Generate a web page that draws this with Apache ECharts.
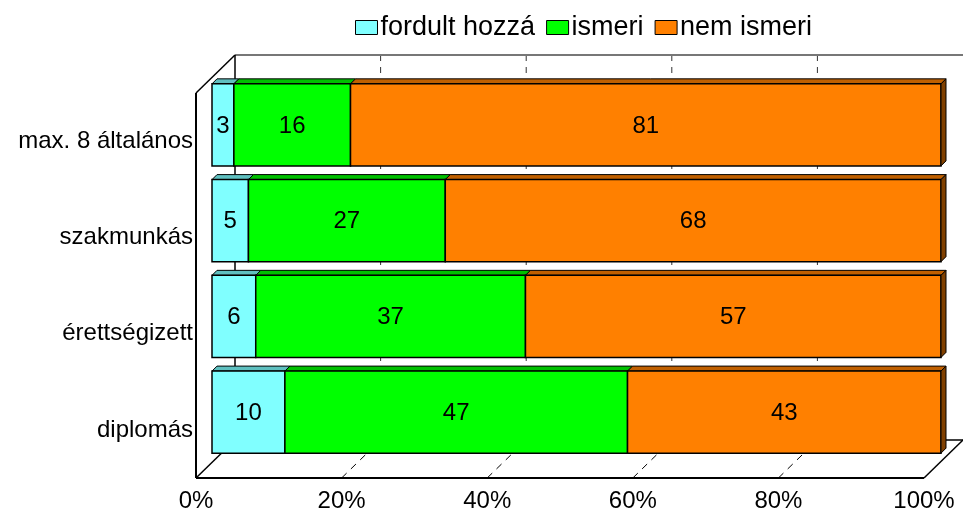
<!DOCTYPE html>
<html>
<head>
<meta charset="utf-8">
<script src="https://cdn.jsdelivr.net/npm/echarts@6/dist/echarts.min.js"></script>
<style>
html,body{margin:0;padding:0;background:#fff;}
#chart{width:963px;height:514px;}
</style>
</head>
<body>
<div id="chart"></div>
<script>
var categories = ['max. 8 általános', 'szakmunkás', 'érettségizett', 'diplomás'];
var fordult = [3, 5, 6, 10];
var ismeri = [16, 27, 37, 47];
var nemIsmeri = [81, 68, 57, 43];
var xTicks = [0, 20, 40, 60, 80, 100];

var names = ['fordult hozzá', 'ismeri', 'nem ismeri'];
var colors = ['#80FFFF', '#00FF00', '#FF8000'];
var topColors = ['#5FC0C0', '#00C000', '#C06000'];
var sideColor = '#804000';
var DEPTH = 5;        // bar top/side depth
var WALL = [39, -38]; // wall depth offset
var FONT = '"Liberation Sans", Arial, sans-serif';

var values = [fordult, ismeri, nemIsmeri];

// segments: [start, end, catIndex, value]
function segments(si) {
    var out = [];
    for (var c = 0; c < categories.length; c++) {
        var start = 0;
        for (var k = 0; k < si; k++) start += values[k][c];
        out.push([start, start + values[si][c], c, values[si][c]]);
    }
    return out;
}

function barItem(si) {
    return function (params, api) {
        var s = api.value(0), e = api.value(1), c = api.value(2);
        var p0 = api.coord([s, c]);
        var p1 = api.coord([e, c]);
        var h = api.size([0, 1])[1] * 0.857;
        var x0 = p0[0], x1 = p1[0], y0 = p0[1] - h / 2, y1 = p0[1] + h / 2;
        var d = DEPTH;
        var kids = [{
            type: 'polygon',
            shape: {points: [[x0, y0], [x0 + d, y0 - d], [x1 + d, y0 - d], [x1, y0]]},
            style: {fill: topColors[si], stroke: '#000', lineWidth: 1}
        }, {
            type: 'rect',
            shape: {x: x0, y: y0, width: x1 - x0, height: y1 - y0},
            style: {fill: colors[si], stroke: '#000', lineWidth: 1.5}
        }, {
            type: 'text',
            style: {
                text: String(api.value(3)), x: (x0 + x1) / 2, y: (y0 + y1) / 2 + 1,
                align: 'center', verticalAlign: 'middle',
                font: '24px ' + FONT, fill: '#000'
            }
        }];
        if (si === values.length - 1) {
            kids.push({
                type: 'polygon',
                shape: {points: [[x1, y0], [x1 + d, y0 - d], [x1 + d, y1 - d], [x1, y1]]},
                style: {fill: sideColor, stroke: '#000', lineWidth: 1}
            });
        }
        return {type: 'group', children: kids};
    };
}

function wallItem(params, api) {
    var cs = params.coordSys;
    var fx0 = api.coord([0, 0])[0], fx1 = api.coord([100, 0])[0];
    var fyT = cs.y, fyB = cs.y + cs.height;
    var dx = WALL[0], dy = WALL[1];
    var kids = [];
    // back wall and floor dashed gridlines
    for (var i = 1; i < xTicks.length - 1; i++) {
        var fx = api.coord([xTicks[i], 0])[0];
        kids.push({
            type: 'line',
            shape: {x1: fx + dx, y1: fyT + dy, x2: fx + dx, y2: fyB + dy},
            style: {stroke: '#333', lineWidth: 1, lineDash: [6, 6]}
        });
        kids.push({
            type: 'line',
            shape: {x1: fx, y1: fyB, x2: fx + dx, y2: fyB + dy},
            style: {stroke: '#000', lineWidth: 1, lineDash: [7, 6]}
        });
    }
    var solid = {stroke: '#000', lineWidth: 1.5};
    kids.push({type: 'line', shape: {x1: fx0 + dx, y1: fyT + dy, x2: fx1 + dx + 20, y2: fyT + dy}, style: {stroke: '#777', lineWidth: 2}});
    kids.push({type: 'line', shape: {x1: fx0, y1: fyT, x2: fx0 + dx, y2: fyT + dy}, style: solid});
    kids.push({type: 'line', shape: {x1: fx0 + dx, y1: fyT + dy, x2: fx0 + dx, y2: fyB + dy}, style: solid});
    kids.push({type: 'line', shape: {x1: fx0, y1: fyT, x2: fx0, y2: fyB}, style: {stroke: '#000', lineWidth: 2}});
    kids.push({type: 'line', shape: {x1: fx0, y1: fyB, x2: fx0 + dx, y2: fyB + dy}, style: solid});
    kids.push({type: 'line', shape: {x1: fx0 + dx, y1: fyB + dy, x2: fx1 + dx, y2: fyB + dy}, style: solid});
    kids.push({type: 'line', shape: {x1: fx1, y1: fyB, x2: fx1 + dx, y2: fyB + dy}, style: solid});
    kids.push({type: 'line', shape: {x1: fx0, y1: fyB, x2: fx1, y2: fyB}, style: {stroke: '#000', lineWidth: 2}});
    return {type: 'group', children: kids};
}

var series = [{
    type: 'custom',
    xAxisIndex: 1,
    yAxisIndex: 1,
    silent: true,
    z: 1,
    data: [[0, 0]],
    renderItem: wallItem
}];
for (var si = 0; si < names.length; si++) {
    series.push({
        name: names[si],
        type: 'custom',
        xAxisIndex: 0,
        yAxisIndex: 0,
        z: 5,
        itemStyle: {color: colors[si], borderColor: '#000', borderWidth: 1},
        encode: {x: [0, 1], y: 2},
        data: segments(si),
        renderItem: barItem(si)
    });
}

var option = {
    animation: false,
    backgroundColor: '#fff',
    textStyle: {fontFamily: FONT},
    legend: {
        data: names,
        left: 355,
        top: 14,
        padding: 0,
        itemWidth: 22,
        itemHeight: 14,
        itemGap: 11,
        icon: 'rect',
        itemStyle: {borderColor: '#000', borderWidth: 1},
        textStyle: {fontSize: 27, color: '#000', padding: [0, 0, 0, -2]}
    },
    grid: [
        {left: 212, right: 22, top: 77, bottom: 54},   // bar plane
        {left: 196, right: 39, top: 93, bottom: 36}    // front plane
    ],
    xAxis: [{
        gridIndex: 0, type: 'value', min: 0, max: 100, show: false
    }, {
        gridIndex: 1, type: 'value', min: 0, max: 100, interval: 20,
        axisLine: {show: false}, axisTick: {show: false}, splitLine: {show: false},
        axisLabel: {formatter: '{value}%', fontSize: 24, color: '#000', margin: 11}
    }],
    yAxis: [{
        gridIndex: 0, type: 'category', data: categories, inverse: true, show: false
    }, {
        gridIndex: 1, type: 'category', data: categories, inverse: true,
        axisLine: {show: false}, axisTick: {show: false}, splitLine: {show: false},
        axisLabel: {fontSize: 24, color: '#000', margin: 3}
    }],
    series: series
};

var myChart = echarts.init(document.getElementById('chart'));
myChart.setOption(option);
window.onresize = function () {
    myChart.resize();
};
</script>
</body>
</html>
